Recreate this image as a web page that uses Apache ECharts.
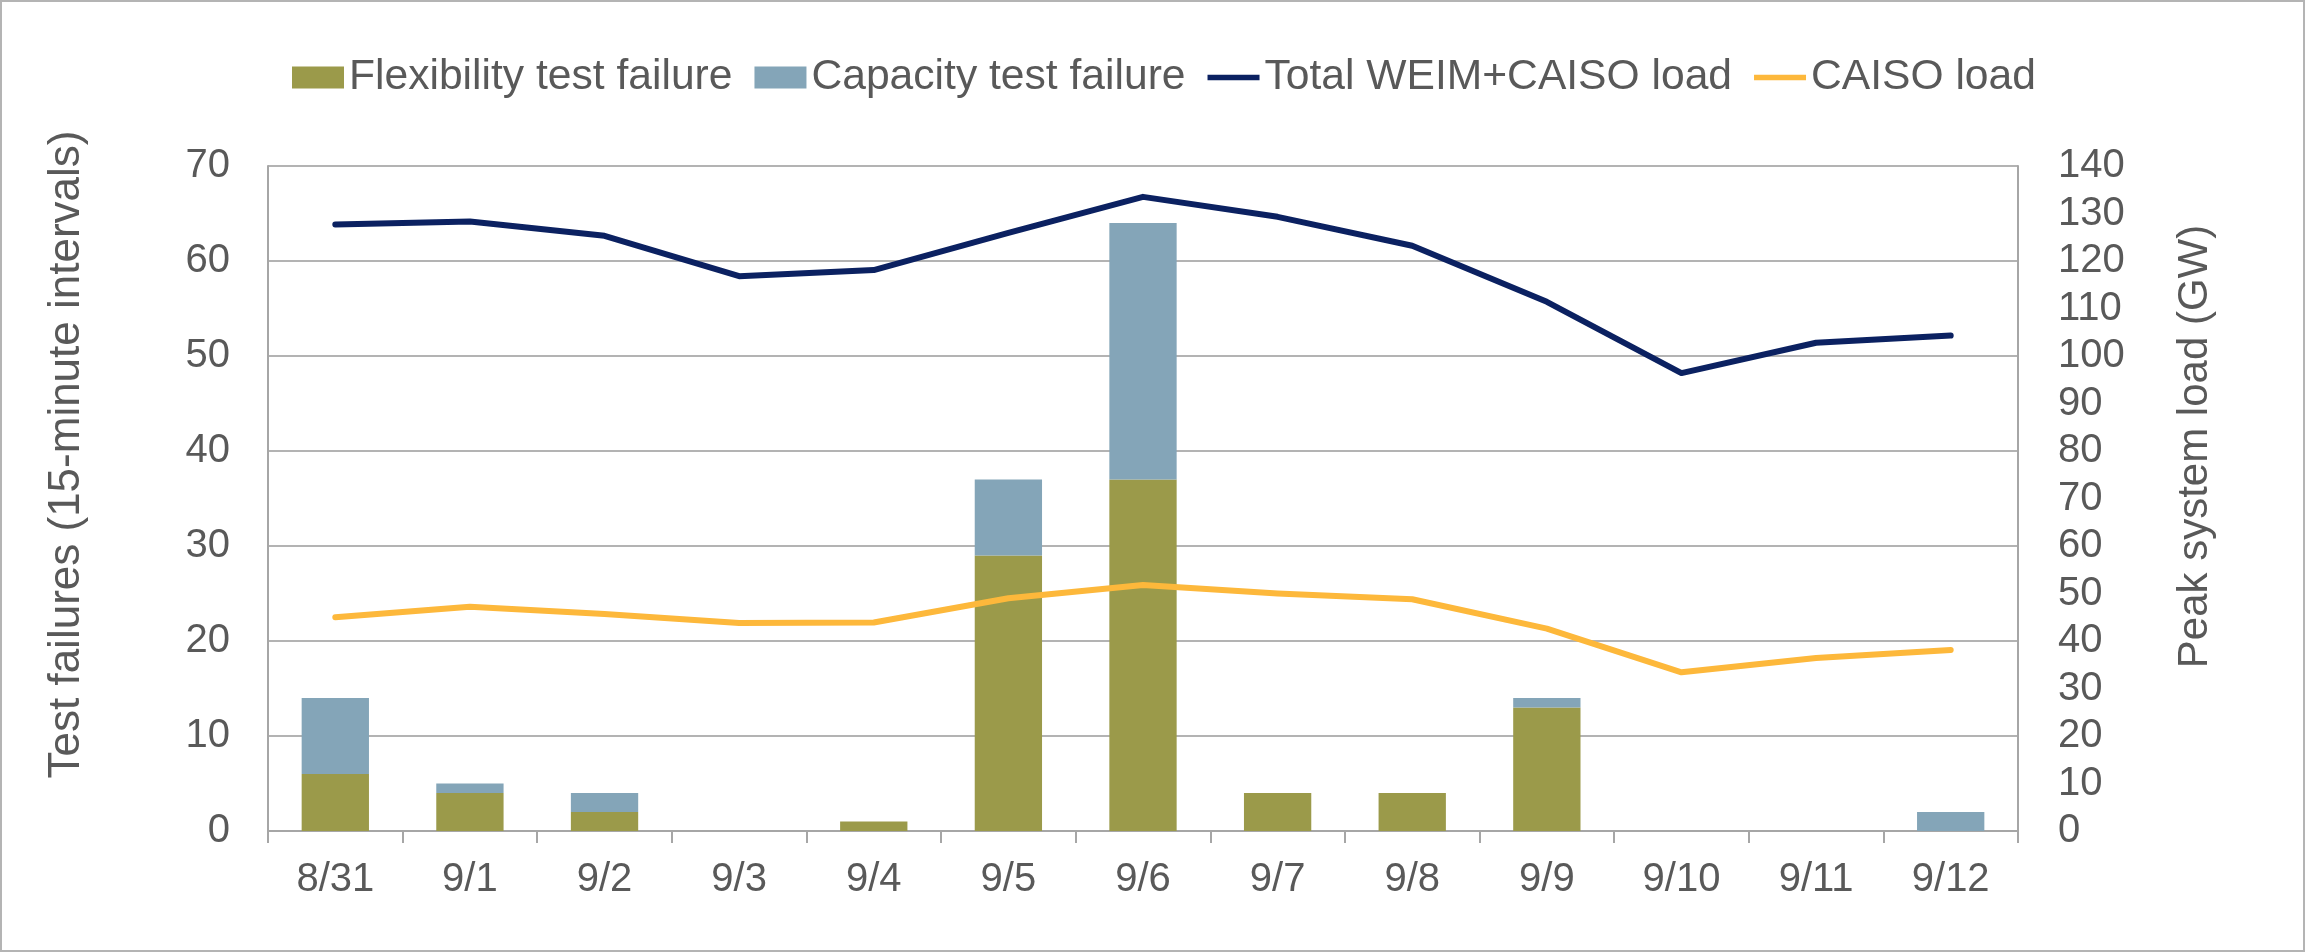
<!DOCTYPE html>
<html>
<head>
<meta charset="utf-8">
<script src="https://cdn.jsdelivr.net/npm/echarts@6/dist/echarts.min.js"></script>
<style>
  html, body { margin: 0; padding: 0; background: #fff; }
  #chart { width: 2305px; height: 952px; box-sizing: border-box; border: 2px solid #b4b4b4; }
</style>
</head>
<body>
<div id="chart"></div>
<script>
const categories = ['8/31','9/1','9/2','9/3','9/4','9/5','9/6','9/7','9/8','9/9','9/10','9/11','9/12'];
const flexFailures = [6, 4, 2, 0, 1, 29, 37, 4, 4, 13, 0, 0, 0];
const capacityFailures = [8, 1, 2, 0, 0, 8, 27, 0, 0, 1, 0, 0, 2];
const totalLoad = [127.7, 128.3, 125.3, 116.8, 118.1, 125.9, 133.5, 129.3, 123.2, 111.4, 96.4, 102.8, 104.3];
const caisoLoad = [45.0, 47.2, 45.7, 43.8, 43.9, 49.0, 51.8, 50.0, 48.8, 42.6, 33.4, 36.4, 38.1];
const seriesNames = ['Flexibility test failure', 'Capacity test failure', 'Total WEIM+CAISO load', 'CAISO load'];
const leftAxisTitle = 'Test failures (15-minute intervals)';
const rightAxisTitle = 'Peak system load (GW)';

const FONT = "'Liberation Sans', Arial, sans-serif";
const TXT = '#595959';
const GRID = '#b3b3b3';
const FLEX_C = '#9b9a4a', CAP_C = '#84a5b8', TOTAL_C = '#0b2161', CAISO_C = '#fdb83b';
// thin horizontal bar icon for the line legend entries (invisible corner points fix the box)
const LINE_ICON = 'path://M0,0L0.01,0M52,22L51.99,22M0,8.3L52,8.3L52,13.7L0,13.7Z';

// zero-height stacked bars are left out
const noZero = arr => arr.map(v => (v === 0 ? '-' : v));

const chart = echarts.init(document.getElementById('chart'), null, { renderer: 'canvas' });
chart.setOption({
  animation: false,
  textStyle: { fontFamily: FONT, color: TXT },
  legend: {
    data: [
      { name: seriesNames[0], icon: 'rect' },
      { name: seriesNames[1], icon: 'rect' },
      { name: seriesNames[2], icon: LINE_ICON, itemStyle: { color: TOTAL_C } },
      { name: seriesNames[3], icon: LINE_ICON, itemStyle: { color: CAISO_C } }
    ],
    left: 285,
    top: 49,
    itemWidth: 52,
    itemHeight: 22,
    itemGap: 22,
    textStyle: { fontFamily: FONT, fontSize: 42.6, color: TXT }
  },
  grid: { left: 266, right: 285, top: 164, bottom: 119 },
  xAxis: {
    type: 'category',
    data: categories,
    axisLine: { lineStyle: { color: '#a6a6a6', width: 2 } },
    axisTick: { show: true, length: 12, lineStyle: { color: '#a6a6a6', width: 2 } },
    axisLabel: { fontFamily: FONT, fontSize: 40, color: TXT, margin: 29 }
  },
  yAxis: [
    {
      type: 'value', min: 0, max: 70, interval: 10, position: 'left',
      name: leftAxisTitle, nameLocation: 'middle', nameRotate: 90, nameGap: 179,
      nameTextStyle: { fontFamily: FONT, fontSize: 44, color: TXT, padding: [0, 0, 0, 88] },
      axisLine: { show: true, lineStyle: { color: '#a6a6a6', width: 2 } },
      axisTick: { show: false },
      axisLabel: { fontFamily: FONT, fontSize: 40, color: TXT, margin: 38 },
      splitLine: { show: true, lineStyle: { color: GRID, width: 2 } }
    },
    {
      type: 'value', min: 0, max: 140, interval: 10, position: 'right',
      name: rightAxisTitle, nameLocation: 'middle', nameRotate: 90, nameGap: 156,
      nameTextStyle: { fontFamily: FONT, fontSize: 42, color: TXT, padding: [0, 0, 0, 104] },
      axisLine: { show: true, lineStyle: { color: '#a6a6a6', width: 2 } },
      axisTick: { show: false },
      axisLabel: { fontFamily: FONT, fontSize: 40, color: TXT, margin: 40, align: 'left' },
      splitLine: { show: false }
    }
  ],
  series: [
    {
      name: seriesNames[0], type: 'bar', stack: 'fail', yAxisIndex: 0,
      data: noZero(flexFailures), barWidth: '50%',
      itemStyle: { color: FLEX_C }
    },
    {
      name: seriesNames[1], type: 'bar', stack: 'fail', yAxisIndex: 0,
      data: noZero(capacityFailures), barWidth: '50%',
      itemStyle: { color: CAP_C }
    },
    {
      name: seriesNames[2], type: 'line', yAxisIndex: 1, data: totalLoad,
      symbol: 'none', z: 5,
      lineStyle: { color: TOTAL_C, width: 6, cap: 'round', join: 'round' },
      itemStyle: { color: TOTAL_C }
    },
    {
      name: seriesNames[3], type: 'line', yAxisIndex: 1, data: caisoLoad,
      symbol: 'none', z: 5,
      lineStyle: { color: CAISO_C, width: 6, cap: 'round', join: 'round' },
      itemStyle: { color: CAISO_C }
    }
  ]
});
</script>
</body>
</html>
